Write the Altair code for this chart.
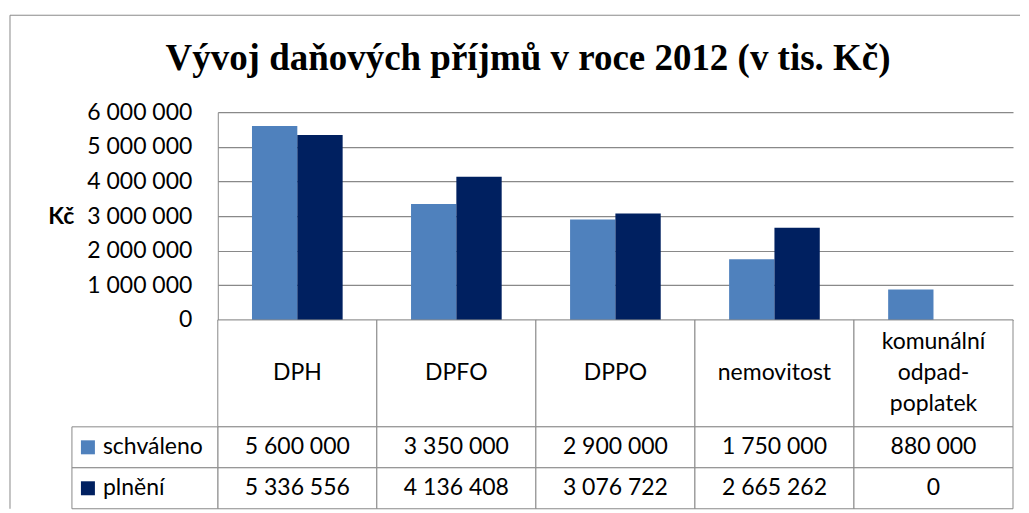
import altair as alt
import pandas as pd

categories = ["DPH", "DPFO", "DPPO", "nemovitost", "komunální odpad-poplatek"]
header_labels = ["DPH", "DPFO", "DPPO", "nemovitost", "komunální\nodpad-\npoplatek"]
series = ["schváleno", "plnění"]
schvaleno = [5600000, 3350000, 2900000, 1750000, 880000]
plneni = [5336556, 4136408, 3076722, 2665262, 0]
colors = ["#4F81BD", "#002060"]
y_ticks = [0, 1000000, 2000000, 3000000, 4000000, 5000000, 6000000]
title_text = "Vývoj daňových příjmů v roce 2012 (v tis. Kč)"
y_title = "Kč"

rows = []
for i, c in enumerate(categories):
    rows.append({"kategorie": c, "rada": series[0], "hodnota": schvaleno[i]})
    rows.append({"kategorie": c, "rada": series[1], "hodnota": plneni[i]})
df = pd.DataFrame(rows)
hdr = pd.DataFrame({"kategorie": categories, "popis": header_labels})
leg = pd.DataFrame({"rada": series})
one = pd.DataFrame({"a": [0]})

GRID = "#898989"
FONT = "Lato"
FS = 23
W = 796

x_bars = alt.X("kategorie:N", sort=categories, axis=None,
               scale=alt.Scale(domain=categories, paddingInner=0.43, paddingOuter=0.215))
x_tab = alt.X("kategorie:N", sort=categories, axis=None,
              scale=alt.Scale(domain=categories, paddingInner=0, paddingOuter=0))
y_rows = alt.Y("rada:N", sort=series, axis=None,
               scale=alt.Scale(domain=series, paddingInner=0, paddingOuter=0))
color = alt.Color("rada:N", scale=alt.Scale(domain=series, range=colors), legend=None)

bars = alt.Chart(df).mark_bar().encode(
    x=x_bars,
    xOffset=alt.XOffset("rada:N", sort=series,
                        scale=alt.Scale(domain=series, paddingInner=0, paddingOuter=0)),
    y=alt.Y("hodnota:Q", scale=alt.Scale(domain=[0, 6000000], nice=False),
            axis=alt.Axis(values=y_ticks, format=",d", title=y_title, titleAngle=0,
                          titleAlign="right", titleBaseline="middle", titleFontWeight="bold",
                          titleFont=FONT, titleFontSize=FS, titlePadding=13, titleColor="black",
                          labelFont=FONT, labelFontSize=FS, labelColor="black", labelPadding=26,
                          ticks=False, domain=True, domainColor=GRID, grid=True,
                          gridColor=GRID, gridWidth=1.2)),
    color=color,
)

panel_a = bars.properties(
    width=W, height=208,
    title=alt.TitleParams(text=title_text, font="Liberation Serif", fontSize=37,
                          fontWeight="bold", anchor="middle", frame="group", dx=-87.5,
                          offset=0, dy=6, baseline="alphabetic", color="black"),
)

hdr_rect = alt.Chart(hdr).mark_rect(fill="white", stroke=GRID, strokeWidth=1).encode(x=x_tab)
hdr_text1 = alt.Chart(hdr).transform_filter("indexof(datum.popis, '\\n') < 0").mark_text(
    font=FONT, fontSize=FS, color="black").encode(x=x_tab, text="popis:N")
hdr_text3 = alt.Chart(hdr).transform_filter("indexof(datum.popis, '\\n') >= 0").mark_text(
    font=FONT, fontSize=FS, lineBreak="\n", lineHeight=31, dy=-31,
    color="black").encode(x=x_tab, text="popis:N")
panel_b1 = alt.layer(hdr_rect, hdr_text1, hdr_text3).properties(width=W, height=107)

cell_rect = alt.Chart(df).mark_rect(fill="white", stroke=GRID, strokeWidth=1).encode(x=x_tab, y=y_rows)
cell_text = alt.Chart(df).mark_text(font=FONT, fontSize=FS, color="black").encode(
    x=x_tab, y=y_rows, text=alt.Text("hodnota:Q", format=",d"))
leg_rect = alt.Chart(leg).mark_rect(fill="white", stroke=GRID, strokeWidth=1).encode(
    x=alt.value(-146), x2=alt.value(0), y=y_rows)
leg_sq = alt.Chart(leg).mark_square(size=196, opacity=1, filled=True).encode(
    x=alt.value(-130), y=y_rows, color=color)
leg_text = alt.Chart(leg).mark_text(font=FONT, fontSize=FS, align="left", color="black").encode(
    x=alt.value(-115), y=y_rows, text="rada:N")
frame_left = alt.Chart(one).mark_rule(color=GRID, strokeWidth=1).encode(
    x=alt.value(-208), y=alt.value(-412), y2=alt.value(82))
frame_top = alt.Chart(one).mark_rule(color=GRID, strokeWidth=1).encode(
    x=alt.value(-208), x2=alt.value(803), y=alt.value(-412))
panel_b2 = alt.layer(cell_rect, cell_text, leg_rect, leg_sq, leg_text, frame_left, frame_top).properties(
    width=W, height=82)

chart = alt.vconcat(panel_a, panel_b1, panel_b2, spacing=0, bounds="flush").resolve_scale(
    x="independent", y="independent", color="independent"
).properties(
    padding={"left": 1, "top": 6, "right": 0, "bottom": 0}
).configure(
    locale={"number": {"decimal": ",", "thousands": " ", "grouping": [3], "currency": ["", " Kč"]}}
).configure_view(strokeWidth=0)

chart.save("out.html", embed_options={"renderer": "svg", "actions": False})
